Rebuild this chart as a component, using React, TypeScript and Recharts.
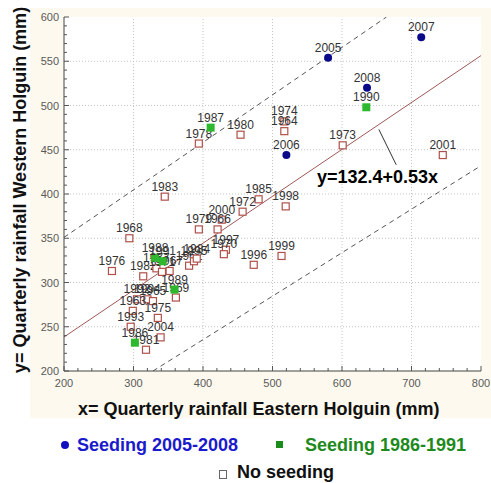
import React from "react";
import { ScatterChart, Scatter, XAxis, YAxis, CartesianGrid, ReferenceLine } from "recharts";

const xMajor = [200, 300, 400, 500, 600, 700, 800];
const yMajor = [200, 250, 300, 350, 400, 450, 500, 550, 600];
const xTicks = [
  200, 220, 240, 260, 280, 300, 320, 340, 360, 380, 400, 420, 440, 460, 480, 500,
  520, 540, 560, 580, 600, 620, 640, 660, 680, 700, 720, 740, 760, 780, 800,
];
const yTicks = [
  200, 210, 220, 230, 240, 250, 260, 270, 280, 290, 300, 310, 320, 330, 340, 350,
  360, 370, 380, 390, 400, 410, 420, 430, 440, 450, 460, 470, 480, 490, 500, 510,
  520, 530, 540, 550, 560, 570, 580, 590, 600,
];
const gridX = [300, 400, 500, 600, 700];
const gridY = [250, 300, 350, 400, 450, 500, 550];

// Seeding 2005-2008
const seeding0508 = [
  { x: 580, y: 554, year: "2005" },
  { x: 714, y: 577, year: "2007" },
  { x: 636, y: 520, year: "2008" },
  { x: 520, y: 444, year: "2006" },
];

// Seeding 1986-1991
const seeding8691 = [
  { x: 411, y: 475, year: "1987" },
  { x: 635, y: 498, year: "1990" },
  { x: 331, y: 328, year: "1988" },
  { x: 342, y: 324, year: "1991" },
  { x: 359, y: 292, year: "1989" },
  { x: 302, y: 232, year: "1986" },
];

const noSeeding = [
  { x: 517, y: 482, year: "1974" },
  { x: 517, y: 471, year: "1964" },
  { x: 601, y: 455, year: "1973" },
  { x: 745, y: 444, year: "2001" },
  { x: 394, y: 457, year: "1978" },
  { x: 454, y: 467, year: "1980" },
  { x: 345, y: 397, year: "1983" },
  { x: 480, y: 394, year: "1985" },
  { x: 519, y: 386, year: "1998" },
  { x: 513, y: 330, year: "1999" },
  { x: 457, y: 380, year: "1972" },
  { x: 427, y: 371, year: "2000" },
  { x: 421, y: 360, year: "1966" },
  { x: 394, y: 360, year: "1979" },
  { x: 294, y: 350, year: "1968" },
  { x: 433, y: 337, year: "1997" },
  { x: 430, y: 332, year: "1970" },
  { x: 473, y: 320, year: "1996" },
  { x: 269, y: 313, year: "1976" },
  { x: 314, y: 307, year: "1982" },
  { x: 333, y: 316, year: "1977" },
  { x: 341, y: 312, year: "1971" },
  { x: 352, y: 313, year: "1967" },
  { x: 380, y: 319, year: "1962" },
  { x: 387, y: 324, year: "1995" },
  { x: 391, y: 327, year: "1984" },
  { x: 361, y: 283, year: "1969" },
  { x: 305, y: 281, year: "1992" },
  { x: 320, y: 281, year: "1994" },
  { x: 328, y: 279, year: "1965" },
  { x: 299, y: 268, year: "1963" },
  { x: 335, y: 260, year: "1975" },
  { x: 296, y: 250, year: "1993" },
  { x: 339, y: 238, year: "2004" },
  { x: 318, y: 224, year: "1981" },
];

// y = 132.4 + 0.53x and its bounds
const fitLine = [{ x: 200, y: 238.4 }, { x: 800, y: 556.4 }];
const upperBound = [{ x: 200, y: 351 }, { x: 664, y: 600 }];
const lowerBound = [{ x: 328, y: 200 }, { x: 800, y: 432 }];
const pointer = [{ x: 653, y: 473 }, { x: 678, y: 433 }];

const FONT = '"Liberation Sans", Arial, sans-serif';

const makeTick = (side: string, majors: number[], showText: boolean) => (props: any) => {
  const { x, y, payload } = props;
  const v = payload.value;
  const major = majors.includes(v);
  const len = major ? 5 : 3;
  let line;
  if (side === "bottom") line = <line x1={x} y1={y} x2={x} y2={y - len} stroke="#555" />;
  else if (side === "top") line = <line x1={x} y1={y} x2={x} y2={y + len} stroke="#555" />;
  else if (side === "left") line = <line x1={x} y1={y} x2={x + len} y2={y} stroke="#555" />;
  else line = <line x1={x} y1={y} x2={x - len} y2={y} stroke="#555" />;
  return (
    <g>
      {line}
      {showText && major && side === "bottom" && (
        <text x={x} y={y + 16} textAnchor="middle" fontSize={11} fill="#5a5a5a" fontFamily={FONT}>
          {v}
        </text>
      )}
      {showText && major && side === "left" && (
        <text x={x - 5} y={y + 4} textAnchor="end" fontSize={11} fill="#5a5a5a" fontFamily={FONT}>
          {v}
        </text>
      )}
    </g>
  );
};

const yearLabel = (cx: number, cy: number, year: string) => (
  <text x={cx} y={cy - 6} textAnchor="middle" fontSize={12} fill="#333" fontFamily={FONT}>
    {year}
  </text>
);

const BlueDot = (p: any) => (
  <g>
    <circle cx={p.cx} cy={p.cy} r={4} fill="#0b0b8a" />
    {yearLabel(p.cx, p.cy, p.payload.year)}
  </g>
);

const GreenSquare = (p: any) => (
  <g>
    <rect x={p.cx - 4} y={p.cy - 4} width={8} height={8} fill="#2db82d" />
    {yearLabel(p.cx, p.cy, p.payload.year)}
  </g>
);

const OpenSquare = (p: any) => (
  <g>
    <rect x={p.cx - 3.5} y={p.cy - 3.5} width={7} height={7} fill="#fff" stroke="#b0504a" strokeWidth={1.2} />
    {yearLabel(p.cx, p.cy, p.payload.year)}
  </g>
);

export default function App() {
  return (
    <div style={{ position: "absolute", left: 0, top: 0, width: 491, height: 483, background: "#fff", fontFamily: FONT }}>
      <div style={{ position: "absolute", left: 30, top: 8, width: 461, height: 410, background: "#fdf9ee" }} />
      <div style={{ position: "absolute", left: 0, top: 0 }}>
        <ScatterChart width={491} height={483} margin={{ top: 17, right: 10, bottom: 92, left: 24 }}>
          <CartesianGrid horizontal={false} vertical={false} fill="#ffffff" />
          <XAxis
            type="number"
            dataKey="x"
            domain={[200, 800]}
            ticks={xTicks}
            interval={0}
            allowDataOverflow
            height={20}
            tickSize={0}
            tickMargin={0}
            axisLine={{ stroke: "#444" }}
            tickLine={false}
            tick={makeTick("bottom", xMajor, true)}
          />
          <XAxis
            xAxisId="top"
            orientation="top"
            type="number"
            dataKey="x"
            domain={[200, 800]}
            ticks={xTicks}
            interval={0}
            height={0}
            tickSize={0}
            tickMargin={0}
            axisLine={{ stroke: "#444" }}
            tickLine={false}
            tick={makeTick("top", xMajor, false)}
          />
          <YAxis
            type="number"
            dataKey="y"
            domain={[200, 600]}
            ticks={yTicks}
            interval={0}
            allowDataOverflow
            width={40}
            tickSize={0}
            tickMargin={0}
            axisLine={{ stroke: "#444" }}
            tickLine={false}
            tick={makeTick("left", yMajor, true)}
          />
          <YAxis
            yAxisId="right"
            orientation="right"
            type="number"
            dataKey="y"
            domain={[200, 600]}
            ticks={yTicks}
            interval={0}
            width={0}
            tickSize={0}
            tickMargin={0}
            axisLine={{ stroke: "#444" }}
            tickLine={false}
            tick={makeTick("right", yMajor, false)}
          />
          {gridX.map((v) => (
            <ReferenceLine key={"gx" + v} x={v} stroke="#c4c4c4" strokeDasharray="1 2" />
          ))}
          {gridY.map((v) => (
            <ReferenceLine key={"gy" + v} y={v} stroke="#c4c4c4" strokeDasharray="1 2" />
          ))}
          <ReferenceLine segment={fitLine} stroke="#a05858" strokeWidth={1} ifOverflow="hidden" />
          <ReferenceLine segment={upperBound} stroke="#555" strokeDasharray="5 4" ifOverflow="hidden" />
          <ReferenceLine segment={lowerBound} stroke="#555" strokeDasharray="5 4" ifOverflow="hidden" />
          <ReferenceLine segment={pointer} stroke="#333" strokeWidth={1} ifOverflow="hidden" />
          <Scatter data={noSeeding} shape={OpenSquare} isAnimationActive={false} />
          <Scatter data={seeding8691} shape={GreenSquare} isAnimationActive={false} />
          <Scatter data={seeding0508} shape={BlueDot} isAnimationActive={false} />
        </ScatterChart>
      </div>
      <div style={{ position: "absolute", left: 317, top: 167, fontSize: 18, fontWeight: "bold", color: "#000", whiteSpace: "nowrap" }}>
        y=132.4+0.53x
      </div>
      <div style={{ position: "absolute", left: 78, top: 399, fontSize: 18, fontWeight: "bold", color: "#111", whiteSpace: "nowrap" }}>
        x= Quarterly rainfall Eastern Holguin (mm)
      </div>
      <div
        style={{
          position: "absolute",
          left: 20,
          top: 190,
          transform: "translate(-50%, -50%) rotate(-90deg)",
          fontSize: 18,
          fontWeight: "bold",
          color: "#111",
          whiteSpace: "nowrap",
        }}
      >
        y= Quarterly rainfall Western Holguin (mm)
      </div>
      <div style={{ position: "absolute", left: 61, top: 441, width: 8, height: 8, borderRadius: 4, background: "#1010c0" }} />
      <div style={{ position: "absolute", left: 77, top: 435, fontSize: 18, fontWeight: "bold", color: "#1a1acc", whiteSpace: "nowrap", lineHeight: "20px" }}>
        Seeding 2005-2008
      </div>
      <div style={{ position: "absolute", left: 276, top: 441, width: 7, height: 7, background: "#1a8c1a" }} />
      <div style={{ position: "absolute", left: 305, top: 435, fontSize: 18, fontWeight: "bold", color: "#1e8a1e", whiteSpace: "nowrap", lineHeight: "20px" }}>
        Seeding 1986-1991
      </div>
      <div style={{ position: "absolute", left: 219, top: 470, width: 6, height: 7, border: "1px solid #666", background: "#fff" }} />
      <div style={{ position: "absolute", left: 237, top: 462, fontSize: 18, fontWeight: "bold", color: "#111", whiteSpace: "nowrap", lineHeight: "20px" }}>
        No seeding
      </div>
    </div>
  );
}
